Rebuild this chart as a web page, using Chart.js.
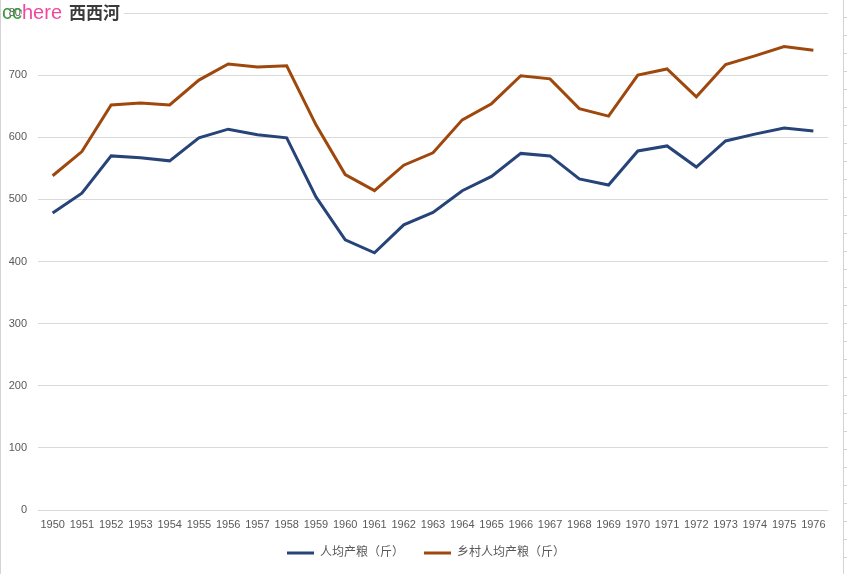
<!DOCTYPE html>
<html>
<head>
<meta charset="utf-8">
<script src="https://cdn.jsdelivr.net/npm/chart.js@4"></script>
<style>
    html, body { margin: 0; padding: 0; background: #fff; }
    #wrap { position: relative; width: 847px; height: 574px; overflow: hidden; }
    #chart { position: absolute; left: 0; top: 0; }
    #leftEdge { position: absolute; left: 0; top: 0; width: 1px; height: 574px; background: #d4d4d4; }
    #rightEdge { position: absolute; left: 843px; top: 0; width: 1px; height: 574px; background: #d4d4d4; }
    #rowTicks { position: absolute; left: 844px; top: 0; width: 3px; height: 574px;
        background: repeating-linear-gradient(to bottom, transparent 0, transparent 17px, #d4d4d4 17px, #d4d4d4 18px); }
    #mark { position: absolute; left: 2px; top: -1px; height: 22px; white-space: nowrap; }
    #mark .cc { font: 20px "Liberation Sans", sans-serif; color: #3c9a3c; }
    #mark .here { font: 20px "Liberation Sans", sans-serif; color: #f0489c; background: #fff; }
    #mark .xxh { font: bold 17px "Noto Sans CJK SC", sans-serif; color: #3a3a3a; background: #fff; padding: 0 4px 0 7px; }
</style>
</head>
<body>
<div id="wrap">
    <canvas id="chart" width="847" height="574"></canvas>
    <div id="leftEdge"></div>
    <div id="rightEdge"></div>
    <div id="rowTicks"></div>
    <div id="mark"><span class="cc">cc</span><span class="here">here</span><span class="xxh">西西河</span></div>
</div>
<script>
const years = ["1950", "1951", "1952", "1953", "1954", "1955", "1956", "1957", "1958", "1959",
    "1960", "1961", "1962", "1963", "1964", "1965", "1966", "1967", "1968", "1969",
    "1970", "1971", "1972", "1973", "1974", "1975", "1976"];

// 人均产粮（斤）
const perCapita = [478, 510, 570, 567, 562, 599, 613, 604, 599, 504,
    435, 414, 459, 479, 514, 537, 574, 570, 533, 523,
    578, 586, 552, 594, 605, 615, 610];

// 乡村人均产粮（斤）
const ruralPerCapita = [538, 577, 652, 655, 652, 692, 718, 713, 715, 620,
    540, 514, 555, 575, 628, 654, 699, 694, 646, 634,
    700, 710, 665, 717, 731, 746, 740];

const yTicks = [0, 100, 200, 300, 400, 500, 600, 700, 800];

const textFont = '"Liberation Sans", "Noto Sans CJK SC", sans-serif';
const textColor = "#595959";
const gridColor = "#d9d9d9";

// nudge the legend a little right and up, like the original
const legendShift = {
    id: "legendShift",
    afterLayout(chart) {
        const lg = chart.legend;
        lg.left += 12;
        lg.right += 12;
        lg.top -= 5;
        lg.bottom -= 5;
    },
};

const ctx = document.getElementById("chart").getContext("2d");

new Chart(ctx, {
    type: "line",
    data: {
        labels: years,
        datasets: [
            {
                label: "人均产粮（斤）",
                data: perCapita,
                borderColor: "#264478",
                backgroundColor: "#264478",
                borderWidth: 3,
                pointRadius: 0,
                tension: 0,
            },
            {
                label: "乡村人均产粮（斤）",
                data: ruralPerCapita,
                borderColor: "#9e480e",
                backgroundColor: "#9e480e",
                borderWidth: 3,
                pointRadius: 0,
                tension: 0,
            },
        ],
    },
    plugins: [legendShift],
    options: {
        responsive: false,
        animation: false,
        layout: {
            padding: { top: 13, right: 19, bottom: 0, left: 0 },
        },
        scales: {
            x: {
                offset: true,
                grid: { display: false, drawTicks: false },
                border: { display: false },
                ticks: {
                    color: textColor,
                    font: { family: textFont, size: 11 },
                    padding: 8,
                    autoSkip: false,
                    maxRotation: 0,
                },
                afterFit: (scale) => { scale.height = 22; },
            },
            y: {
                min: 0,
                max: 800,
                afterBuildTicks: (scale) => { scale.ticks = yTicks.map(v => ({ value: v })); },
                grid: { color: gridColor, lineWidth: 1, drawTicks: false },
                border: { display: false },
                ticks: {
                    color: textColor,
                    font: { family: textFont, size: 11 },
                    padding: 11,
                },
                afterFit: (scale) => {
                    scale.width = 38;
                    scale.paddingTop = 0;
                    scale.paddingBottom = 0;
                },
            },
        },
        plugins: {
            legend: {
                position: "bottom",
                labels: {
                    color: textColor,
                    font: { family: textFont, size: 12 },
                    boxWidth: 27,
                    boxHeight: 3,
                    padding: 20,
                    generateLabels: (chart) =>
                        Chart.defaults.plugins.legend.labels.generateLabels(chart).map(item => {
                            item.lineWidth = 0;
                            return item;
                        }),
                },
            },
            tooltip: { enabled: false },
        },
    },
});
</script>
</body>
</html>
